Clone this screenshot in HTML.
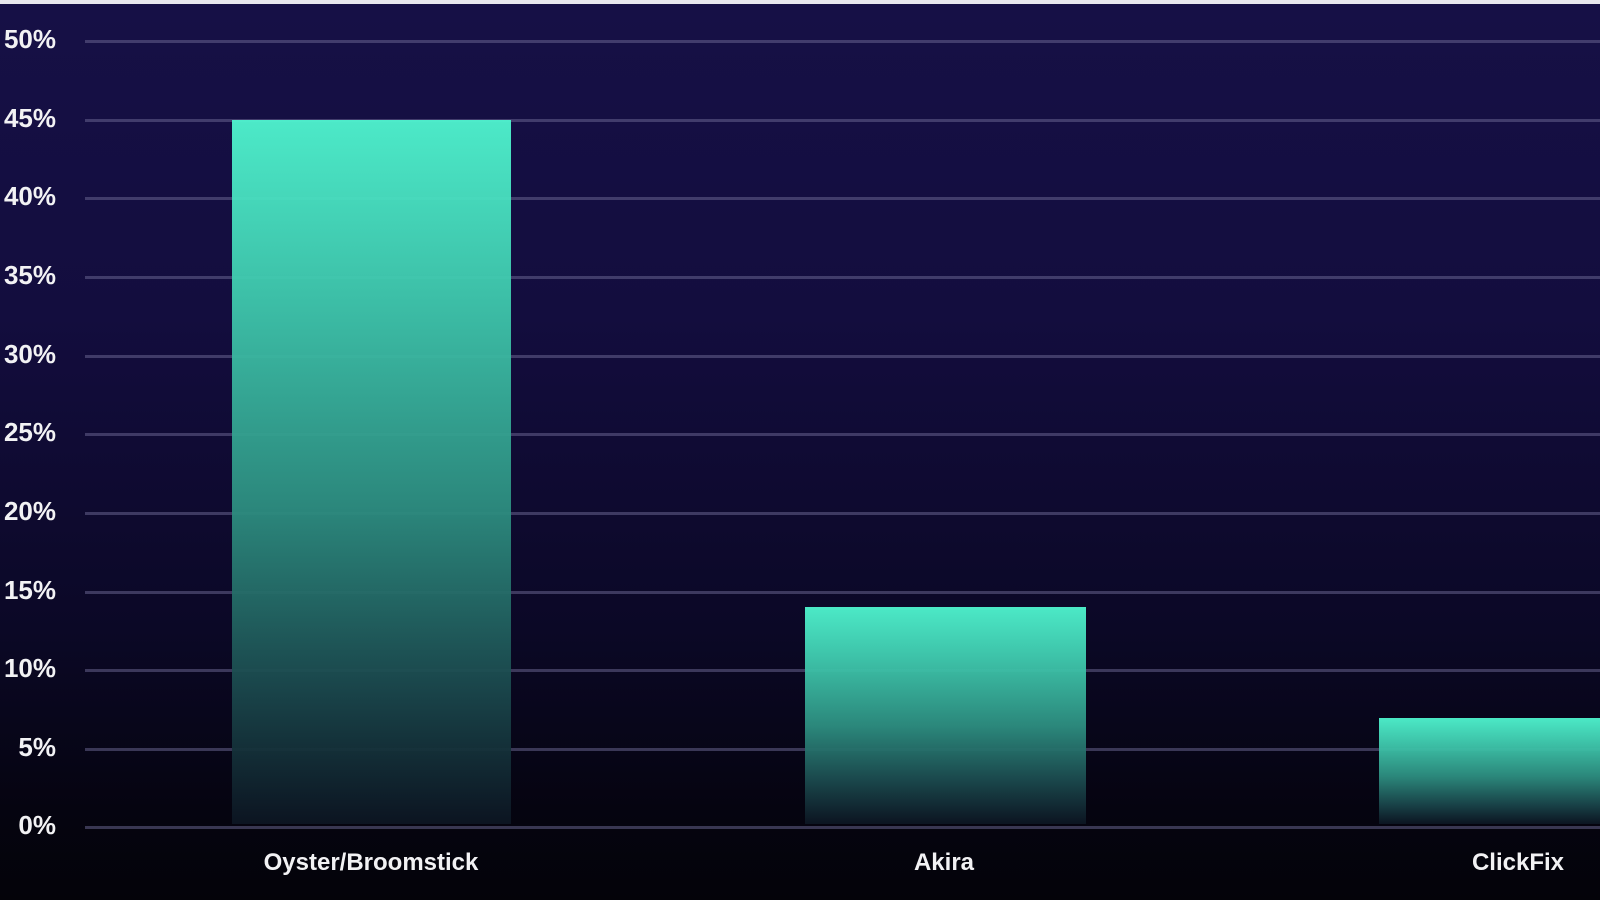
<!DOCTYPE html>
<html><head><meta charset="utf-8"><style>
html,body{margin:0;padding:0;}
body{width:1600px;height:900px;overflow:hidden;position:relative;background:linear-gradient(to bottom,#161046 0%,#130d3e 35%,#0b0826 70%,#050410 90%,#040309 100%);font-family:"Liberation Sans",sans-serif;}
.top{position:absolute;left:0;top:0;width:1600px;height:4px;background:#e8e8ee;}
.grid{position:absolute;left:85px;width:1515px;height:3px;background:rgba(110,105,150,0.5);}
.yl{position:absolute;left:0;width:56px;text-align:right;color:#f2f2f4;font-size:26px;font-weight:bold;line-height:30px;}
.bar{position:absolute;background:linear-gradient(to bottom,#4ff5cf 0%,#3fc9ad 25%,#2d8e80 55%,#1b4a4e 80%,#0c1522 100%);opacity:0.95;}
.xl{position:absolute;top:849px;color:#f2f2f4;font-size:24px;font-weight:bold;transform:translateX(-50%);white-space:nowrap;}
</style></head><body>
<div class="top"></div>
<div class="grid" style="top:40px"></div>
<div class="grid" style="top:119px"></div>
<div class="grid" style="top:197px"></div>
<div class="grid" style="top:276px"></div>
<div class="grid" style="top:355px"></div>
<div class="grid" style="top:433px"></div>
<div class="grid" style="top:512px"></div>
<div class="grid" style="top:591px"></div>
<div class="grid" style="top:669px"></div>
<div class="grid" style="top:748px"></div>
<div class="grid" style="top:826px"></div>
<div class="bar" style="left:232px;top:120px;width:279px;height:704px"></div>
<div class="bar" style="left:805px;top:607px;width:281px;height:217px"></div>
<div class="bar" style="left:1379px;top:718px;width:221px;height:106px"></div>
<div class="yl" style="top:24px">50%</div>
<div class="yl" style="top:103px">45%</div>
<div class="yl" style="top:181px">40%</div>
<div class="yl" style="top:260px">35%</div>
<div class="yl" style="top:339px">30%</div>
<div class="yl" style="top:417px">25%</div>
<div class="yl" style="top:496px">20%</div>
<div class="yl" style="top:575px">15%</div>
<div class="yl" style="top:653px">10%</div>
<div class="yl" style="top:732px">5%</div>
<div class="yl" style="top:810px">0%</div>
<div class="xl" style="left:371px">Oyster/Broomstick</div>
<div class="xl" style="left:944px">Akira</div>
<div class="xl" style="left:1518px">ClickFix</div>
</body></html>
